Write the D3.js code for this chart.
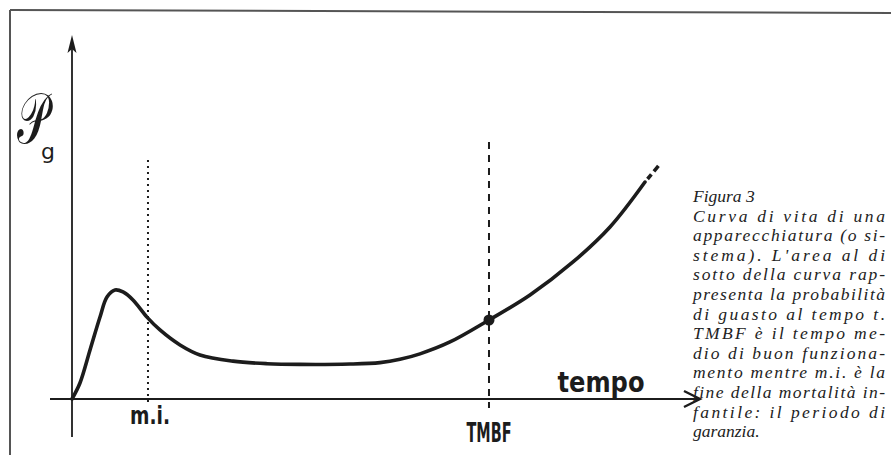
<!DOCTYPE html>
<html><head><meta charset="utf-8">
<script src="https://cdn.jsdelivr.net/npm/d3@7"></script>
<style>body{margin:0;background:#fff}</style>
</head><body>
<script>
// curve of life: time (0..100) vs failure probability (0..100)
const curveT = [0, 1.27, 2.87, 4.46, 5.57, 6.85, 8.12, 9.71, 11.94, 14.01, 17.2, 20.38, 25.64, 31.05, 36.31, 44.27, 49.04, 52.23, 55.41, 60.19, 66.4, 72.93, 79.78, 85.67, 91.24];
const curveP = [0, 4.4, 13.46, 22.53, 28.02, 29.95, 29.4, 27.2, 22.5, 18.96, 14.84, 12.09, 10.4, 9.7, 9.5, 9.6, 10.0, 10.9, 12.4, 15.66, 21.7, 28.57, 37.64, 47.25, 59.6];
const extT = [91.24, 95.22];
const extP = [59.6, 67.86];
const markerNames = ["m.i.", "TMBF"];
const markerT = [12.1, 66.4];
const captionLines = ["Figura 3", "Curva di vita di una", "apparecchiatura (o si-", "stema). L'area al di", "sotto della curva rap-", "presenta la probabilità", "di guasto al tempo t.", "TMBF è il tempo me-", "dio di buon funziona-", "mento mentre m.i. è la", "fine della mortalità in-", "fantile: il periodo di", "garanzia."];

const W = 891, H = 455;
const svg = d3.select("body").append("svg").attr("width", W).attr("height", H);
const x = d3.scaleLinear().domain([0, 100]).range([72, 700]);
const y = d3.scaleLinear().domain([0, 100]).range([399, 35]);
const ink = "#1c1c1c";

// frame
svg.append("line").attr("x1", 10).attr("y1", 10).attr("x2", 891).attr("y2", 13).attr("stroke", "#555").attr("stroke-width", 2);
svg.append("line").attr("x1", 10).attr("y1", 10).attr("x2", 10).attr("y2", 455).attr("stroke", "#555").attr("stroke-width", 2);

// axes
svg.append("line").attr("x1", x(0) - 22).attr("y1", y(0)).attr("x2", x(100)).attr("y2", y(0)).attr("stroke", ink).attr("stroke-width", 2.2);
svg.append("line").attr("x1", x(0)).attr("y1", y(0) + 38).attr("x2", x(0)).attr("y2", y(100) + 6).attr("stroke", ink).attr("stroke-width", 1.8);
svg.append("path").attr("d", `M${x(0)},${y(100)} L${x(0) - 4.5},${y(100) + 18} L${x(0)},${y(100) + 14} L${x(0) + 4.5},${y(100) + 18} Z`).attr("fill", ink);
svg.append("path").attr("d", `M${x(100) - 16},${y(0) - 8} L${x(100)},${y(0)} L${x(100) - 16},${y(0) + 8}`).attr("fill", "none").attr("stroke", ink).attr("stroke-width", 2.4);

// marker verticals
svg.append("line").attr("x1", x(markerT[0])).attr("x2", x(markerT[0])).attr("y1", 160).attr("y2", y(0) + 6)
  .attr("stroke", ink).attr("stroke-width", 2).attr("stroke-dasharray", "2,4");
svg.append("line").attr("x1", x(markerT[1])).attr("x2", x(markerT[1])).attr("y1", 142).attr("y2", y(0) + 9)
  .attr("stroke", ink).attr("stroke-width", 2).attr("stroke-dasharray", "7,6");

// curve
const line = d3.line().x(d => x(d[0])).y(d => y(d[1])).curve(d3.curveCatmullRom.alpha(0.5));
svg.append("path").datum(d3.zip(curveT, curveP)).attr("d", line).attr("fill", "none")
  .attr("stroke", ink).attr("stroke-width", 3.6).attr("stroke-linecap", "round");
svg.append("path").datum(d3.zip(extT, extP)).attr("d", d3.line().x(d => x(d[0])).y(d => y(d[1])))
  .attr("fill", "none").attr("stroke", ink).attr("stroke-width", 3.6).attr("stroke-dasharray", "0,4,6,4,7,20");
const iT = curveT.indexOf(markerT[1]);
svg.append("circle").attr("cx", x(markerT[1])).attr("cy", y(curveP[iT])).attr("r", 5.5).attr("fill", ink);

// labels
const lab = "'DejaVu Sans Condensed', 'DejaVu Sans', sans-serif";
svg.append("text").attr("x", x(markerT[0]) + 2).attr("y", 424).attr("text-anchor", "middle")
  .attr("font-family", lab).attr("font-weight", "bold").attr("font-size", 24).attr("fill", ink)
  .attr("textLength", 40).attr("lengthAdjust", "spacingAndGlyphs").text(markerNames[0]);
svg.append("text").attr("x", x(markerT[1])).attr("y", 442).attr("text-anchor", "middle")
  .attr("font-family", lab).attr("font-weight", "bold").attr("font-size", 27).attr("fill", ink)
  .attr("textLength", 45).attr("lengthAdjust", "spacingAndGlyphs").text(markerNames[1]);
svg.append("text").attr("x", 601).attr("y", 392).attr("text-anchor", "middle")
  .attr("font-family", lab).attr("font-weight", "bold").attr("font-size", 28).attr("fill", ink)
  .attr("textLength", 87).attr("lengthAdjust", "spacingAndGlyphs").text("tempo");

// y label: script P (stretched vertically) with subscript g
svg.append("text").attr("transform", "translate(17,143) scale(0.95,1.55)").attr("fill", ink)
  .attr("font-family", "'DejaVu Serif', 'DejaVu Sans', serif").attr("font-size", 46).text("𝒫");
svg.append("text").attr("x", 41).attr("y", 159).attr("font-size", 22)
  .attr("font-family", "'DejaVu Sans', sans-serif").attr("fill", ink).text("g");

// caption
const cap = svg.append("g").attr("font-family", "'Liberation Serif', 'Times New Roman', serif")
  .attr("font-style", "italic").attr("font-size", 17.5).attr("fill", "#222");
captionLines.forEach((s, i) => {
  const t = cap.append("text").attr("x", 693).attr("y", 202 + i * 19.6).text(s);
  if (i > 0 && i < captionLines.length - 1) t.attr("textLength", 192).attr("lengthAdjust", "spacing");
});
</script>
</body></html>
